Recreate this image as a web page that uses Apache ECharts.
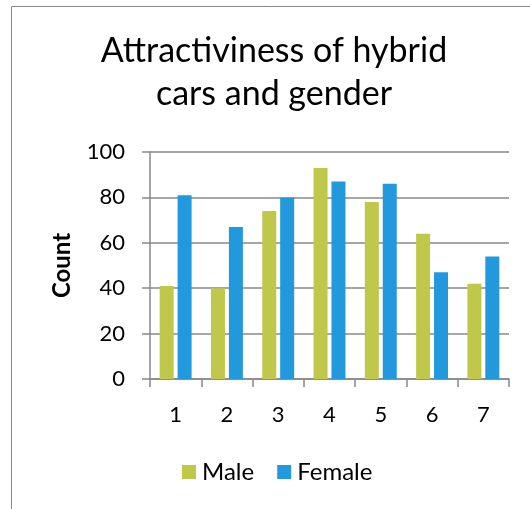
<!DOCTYPE html>
<html><head><meta charset="utf-8">
<script src="https://cdn.jsdelivr.net/npm/echarts@6/dist/echarts.min.js"></script>
<style>html,body{margin:0;padding:0;background:#fff}#c{width:530px;height:509px}</style>
</head><body><div id="c"></div>
<script>
const categories = ['1','2','3','4','5','6','7'];
const maleValues = [41, 40, 74, 93, 78, 64, 42];
const femaleValues = [81, 67, 80, 87, 86, 47, 54];
const seriesNames = ['Male', 'Female'];
const titleText = 'Attractiviness of hybrid\ncars and gender';
const yAxisName = 'Count';

const FONT = 'Lato';
const chart = echarts.init(document.getElementById('c'), null, {renderer:'canvas'});
chart.setOption({
  animation: false,
  backgroundColor: '#fff',
  graphic: [{
    type: 'rect', shape: {x: 11.5, y: 6.5, width: 560, height: 560},
    style: {fill: 'none', stroke: '#888', lineWidth: 1}, silent: true
  }],
  title: {
    text: titleText, left: 274, top: 30, textAlign: 'center', padding: 0,
    textStyle: {fontFamily: FONT, fontSize: 34, fontWeight: 'normal', color: '#000', lineHeight: 43}
  },
  legend: {
    data: seriesNames, left: 182, top: 460, padding: 0, itemWidth: 14, itemHeight: 14, itemGap: 23,
    icon: 'rect', textStyle: {fontFamily: FONT, fontSize: 24, color: '#000', padding: [0,0,0,1]}
  },
  grid: {left: 150, right: 21, top: 152, bottom: 130, containLabel: false},
  xAxis: {
    type: 'category', data: categories,
    axisLine: {lineStyle: {color: '#888', width: 1.5}},
    axisTick: {show: true, length: 8, lineStyle: {color: '#888', width: 1.5}},
    axisLabel: {fontFamily: FONT, fontSize: 22, color: '#000', margin: 25}
  },
  yAxis: {
    type: 'value', min: 0, max: 100, interval: 20,
    name: yAxisName, nameLocation: 'middle', nameGap: 76,
    nameTextStyle: {fontFamily: FONT, fontSize: 24, fontWeight: 'bold', color: '#000'},
    axisLine: {show: true, lineStyle: {color: '#888', width: 1.5}},
    axisTick: {show: true, length: 8, lineStyle: {color: '#888', width: 1.5}},
    splitLine: {lineStyle: {color: '#888', width: 1.5}},
    axisLabel: {fontFamily: FONT, fontSize: 22, color: '#000', margin: 25}
  },
  series: [
    {name: seriesNames[0], type: 'bar', data: maleValues, barWidth: 14, barGap: '28%', itemStyle: {color: '#bfc84b'}},
    {name: seriesNames[1], type: 'bar', data: femaleValues, barWidth: 14, itemStyle: {color: '#2299dc'}}
  ]
});
</script></body></html>
